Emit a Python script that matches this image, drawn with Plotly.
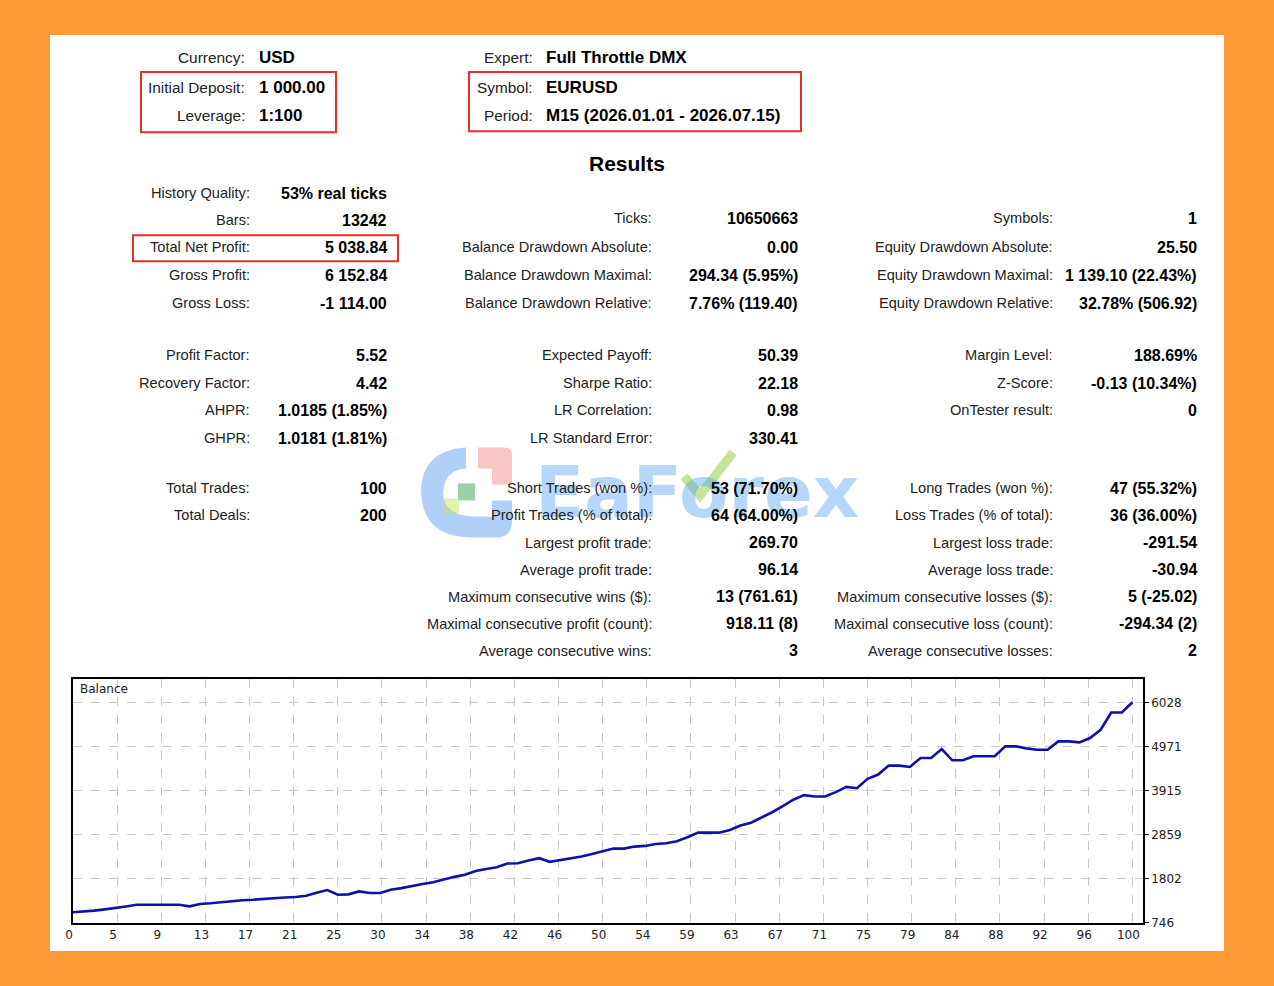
import plotly.graph_objects as go

W, H = 1274, 986      # reference picture size
# the capture of the page is slightly squeezed (about 8 px in each direction);
# these two helpers place items so they land where the reference has them
K = 994 / 986


def px(x):
    return (x - 8) / (W - 8)


def py(y):
    return 1 - y * K / H


# header block
head_left_labels = ["Currency:", "Initial Deposit:", "Leverage:"]
head_left_values = ["USD", "1 000.00", "1:100"]
head_right_labels = ["Expert:", "Symbol:", "Period:"]
head_right_values = ["Full Throttle DMX", "EURUSD", "M15 (2026.01.01 - 2026.07.15)"]

# results columns
col1_labels = ["History Quality:", "Bars:", "Total Net Profit:", "Gross Profit:", "Gross Loss:",
               "Profit Factor:", "Recovery Factor:", "AHPR:", "GHPR:",
               "Total Trades:", "Total Deals:"]
col1_values = ["53% real ticks", "13242", "5 038.84", "6 152.84", "-1 114.00",
               "5.52", "4.42", "1.0185 (1.85%)", "1.0181 (1.81%)",
               "100", "200"]
col2_labels = ["Ticks:", "Balance Drawdown Absolute:", "Balance Drawdown Maximal:",
               "Balance Drawdown Relative:", "Expected Payoff:", "Sharpe Ratio:",
               "LR Correlation:", "LR Standard Error:", "Short Trades (won %):",
               "Profit Trades (% of total):", "Largest profit trade:", "Average profit trade:",
               "Maximum consecutive wins ($):", "Maximal consecutive profit (count):",
               "Average consecutive wins:"]
col2_values = ["10650663", "0.00", "294.34 (5.95%)", "7.76% (119.40)", "50.39", "22.18",
               "0.98", "330.41", "53 (71.70%)", "64 (64.00%)", "269.70", "96.14",
               "13 (761.61)", "918.11 (8)", "3"]
col3_labels = ["Symbols:", "Equity Drawdown Absolute:", "Equity Drawdown Maximal:",
               "Equity Drawdown Relative:", "Margin Level:", "Z-Score:", "OnTester result:",
               "Long Trades (won %):", "Loss Trades (% of total):", "Largest loss trade:",
               "Average loss trade:", "Maximum consecutive losses ($):",
               "Maximal consecutive loss (count):", "Average consecutive losses:"]
col3_values = ["1", "25.50", "1 139.10 (22.43%)", "32.78% (506.92)", "188.69%",
               "-0.13 (10.34%)", "0", "47 (55.32%)", "36 (36.00%)", "-291.54", "-30.94",
               "5 (-25.02)", "-294.34 (2)", "2"]

# balance curve (by trade number)
trades = list(range(101))
balance = [1000, 1015, 1040, 1070, 1100, 1140, 1180, 1180, 1180, 1180,
           1180, 1143, 1200, 1215, 1240, 1279, 1290, 1302, 1320, 1350,
           1355, 1366, 1398, 1470, 1533, 1422, 1430, 1501, 1462, 1462,
           1541, 1580, 1637, 1680, 1720, 1790, 1850, 1900, 1990, 2040,
           2080, 2170, 2178, 2240, 2297, 2210, 2250, 2280, 2337, 2400,
           2470, 2528, 2528, 2576, 2592, 2640, 2656, 2703, 2800, 2910,
           2910, 2910, 2974, 3080, 3150, 3269, 3400, 3547, 3700, 3810,
           3778, 3778, 3882, 4009, 3977, 4200, 4303, 4518, 4518, 4486,
           4701, 4701, 4916, 4646, 4646, 4741, 4741, 4741, 4980, 4980,
           4932, 4900, 4900, 5099, 5099, 5076, 5179, 5378, 5792, 5792,
           6039]
x_tick_labels = ["0", "5", "9", "13", "17", "21", "25", "30", "34", "38", "42", "46", "50",
                 "54", "59", "63", "67", "71", "75", "79", "84", "88", "92", "96", "100"]
y_tick_values = [746, 1802, 2859, 3915, 4971, 6028]

FONT = "Liberation Sans"
LBL = "#222222"
ORANGE = "#fe9a36"

fig = go.Figure()
fig.add_trace(go.Scatter(x=trades, y=balance, mode="lines",
                         line=dict(color="#1010a8", width=2.6), hoverinfo="skip"))

ann = []


def label(x, y, text, anchor="right", bold=False, size=14.6, color=LBL):
    ann.append(dict(x=px(x), y=py(y), xref="paper", yref="paper", text=f"<b>{text}</b>" if bold else text,
                    showarrow=False, xanchor=anchor, yanchor="middle",
                    font=dict(family=FONT, size=size, color=color)))


# watermark sits under the table text
ann.append(dict(x=px(697), y=py(492), xref="paper", yref="paper", text="<b>EaForex</b>", showarrow=False,
                xanchor="center", yanchor="middle",
                font=dict(family="DejaVu Sans", size=72, color="rgba(80,160,240,0.42)")))

head_rows = [57, 87, 115]
for yy, lab, val in zip(head_rows, head_left_labels, head_left_values):
    label(247, yy, lab, size=15.4)
    label(257, yy, val, anchor="left", bold=True, size=17, color="#000")
for yy, lab, val in zip(head_rows, head_right_labels, head_right_values):
    label(535, yy, lab, size=15.4)
    label(544, yy, val, anchor="left", bold=True, size=17, color="#000")

label(627, 163, "Results", anchor="center", bold=True, size=21, color="#000")

rows1 = [193, 220, 247, 275, 303, 355, 383, 410, 438, 488, 515]
rows2 = [218, 247, 275, 303, 355, 383, 410, 438, 488, 515, 542, 569, 596, 623, 650]
rows3 = [218, 247, 275, 303, 355, 383, 410, 488, 515, 542, 569, 596, 623, 650]
for rows, labs, vals, lx, vx in [(rows1, col1_labels, col1_values, 252, 389),
                                  (rows2, col2_labels, col2_values, 654, 800),
                                  (rows3, col3_labels, col3_values, 1055, 1199)]:
    for yy, lab, val in zip(rows, labs, vals):
        label(lx, yy, lab)
        label(vx, yy, val, bold=True, size=16, color="#000")

# chart caption
ann.append(dict(x=px(78), y=py(688), xref="paper", yref="paper", text="Balance", showarrow=False,
                xanchor="left", yanchor="middle", font=dict(family="DejaVu Sans", size=12, color="#222")))


def pth(*pts, close=True):
    # pts: ("M", x, y) / ("L", x, y) / ("Q", cx, cy, x, y)
    out = []
    for p in pts:
        if p[0] == "Q":
            out.append(f"Q {px(p[1])},{py(p[2])} {px(p[3])},{py(p[4])}")
        else:
            out.append(f"{p[0]} {px(p[1])},{py(p[2])}")
    return " ".join(out) + (" Z" if close else "")


shapes = [
    dict(type="rect", xref="paper", yref="paper", x0=px(50), x1=px(1224), y0=py(950), y1=py(35),
         fillcolor="white", line=dict(width=0), layer="below"),
    dict(type="rect", xref="paper", yref="paper", x0=px(141), x1=px(336), y0=py(132), y1=py(72),
         line=dict(color="#e8302a", width=2)),
    dict(type="rect", xref="paper", yref="paper", x0=px(469), x1=px(801), y0=py(131), y1=py(72),
         line=dict(color="#e8302a", width=2)),
    dict(type="rect", xref="paper", yref="paper", x0=px(133), x1=px(398), y0=py(261), y1=py(235),
         line=dict(color="#e8302a", width=2)),
    # watermark logo
    dict(type="path", xref="paper", yref="paper",
         path=pth(("M", 466, 447), ("Q", 421, 450, 421, 492), ("Q", 423, 536, 470, 537),
                  ("L", 498, 537), ("Q", 512, 536, 512, 520), ("L", 512, 500), ("L", 492, 500),
                  ("L", 492, 516), ("L", 470, 516), ("Q", 443, 513, 443, 492),
                  ("Q", 445, 469, 466, 468)),
         fillcolor="rgba(80,150,240,0.45)", line=dict(width=0)),
    dict(type="path", xref="paper", yref="paper",
         path=pth(("M", 478, 447), ("L", 504, 447), ("Q", 512, 447, 512, 455), ("L", 512, 484),
                  ("L", 492, 484), ("L", 492, 468), ("L", 478, 468)),
         fillcolor="rgba(240,110,110,0.4)", line=dict(width=0)),
    dict(type="rect", xref="paper", yref="paper", x0=px(458), x1=px(475), y0=py(500), y1=py(483),
         fillcolor="rgba(60,160,80,0.5)", line=dict(width=0)),
    dict(type="rect", xref="paper", yref="paper", x0=px(444), x1=px(459), y0=py(513), y1=py(498),
         fillcolor="rgba(200,230,90,0.5)", line=dict(width=0)),
    # check mark inside the watermark
    dict(type="path", xref="paper", yref="paper",
         path=pth(("M", 684, 476), ("L", 700, 495), ("L", 733, 452), close=False),
         line=dict(color="rgba(150,205,70,0.55)", width=9)),
]

fig.update_layout(
    width=W, height=H,
    margin=dict(l=0, r=0, t=0, b=0),
    paper_bgcolor=ORANGE,
    plot_bgcolor="white",
    showlegend=False,
    annotations=ann,
    shapes=shapes,
    xaxis=dict(domain=[px(73), px(1143)], range=[0, 101],
               tickvals=[i * 100 / 24 for i in range(25)], ticktext=x_tick_labels,
               showgrid=True, gridcolor="#c8c8c8", griddash="dash", gridwidth=1,
               showline=True, linecolor="#000", linewidth=1.5, mirror=True, zeroline=False,
               ticks="", ticklabelshift=-4,
               tickfont=dict(family="DejaVu Sans", size=12, color="#222")),
    yaxis=dict(domain=[py(922), py(678)], range=[746, 6604], side="right",
               tickvals=y_tick_values, showgrid=True, gridcolor="#c8c8c8", griddash="dash",
               showline=True, linecolor="#000", linewidth=1.5, mirror=True, zeroline=False,
               ticks="outside", ticklen=4, tickcolor="#000",
               tickfont=dict(family="DejaVu Sans", size=12, color="#222")),
)

fig.write_html("out.html", config={"displayModeBar": False},
               post_script="document.body.style.margin='0';"
                           f"document.body.style.background='{ORANGE}';")
